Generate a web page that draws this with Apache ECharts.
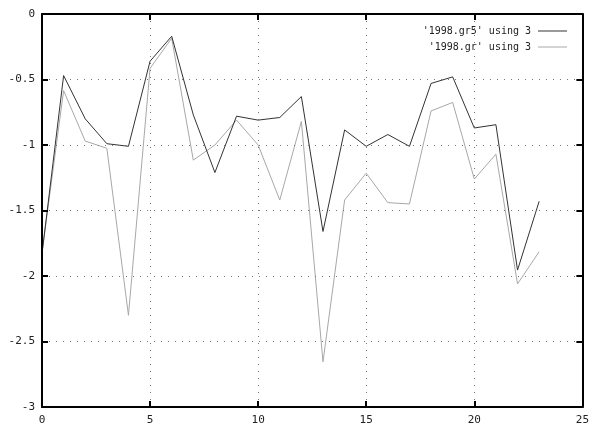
<!DOCTYPE html>
<html>
<head>
<meta charset="utf-8">
<script src="https://cdn.jsdelivr.net/npm/echarts@6/dist/echarts.min.js"></script>
<style>
  html, body { margin: 0; padding: 0; background: #fff; }
  #chart { width: 592px; height: 428px; }
</style>
</head>
<body>
<div id="chart"></div>
<script>
// Column 3 of the two 1998 data files, one value per row index
var rowIndex = [0, 1, 2, 3, 4, 5, 6, 7, 8, 9, 10, 11, 12, 13, 14, 15, 16, 17, 18, 19, 20, 21, 22, 23];
var gr5Values = [-1.83, -0.47, -0.80, -0.99, -1.01, -0.36, -0.17, -0.77, -1.21, -0.78, -0.81, -0.79, -0.63, -1.66,
                 -0.885, -1.01, -0.92, -1.01, -0.53, -0.48, -0.87, -0.845, -1.955, -1.43];
var grValues = [-1.82, -0.585, -0.97, -1.025, -2.30, -0.415, -0.185, -1.115, -1.00, -0.81, -1.00, -1.42, -0.82, -2.655,
                -1.42, -1.215, -1.44, -1.45, -0.74, -0.675, -1.26, -1.07, -2.06, -1.815];
var seriesNames = ["'1998.gr5' using 3", "'1998.gr' using 3"];
var xTicks = { min: 0, max: 25, step: 5 };
var yTicks = { min: -3, max: 0, step: 0.5 };

function pairs(xs, ys) {
  return xs.map(function (x, i) { return [x, ys[i]]; });
}

var font = "DejaVu Sans Mono";
var frame = { show: true, onZero: false, lineStyle: { color: '#000', width: 2 } };
var innerTick = { show: true, inside: true, length: 6, lineStyle: { color: '#000', width: 2 } };
var dotted = { show: true, lineStyle: { color: '#777', width: 1, type: [1, 6] } };

var chart = echarts.init(document.getElementById('chart'), null, { renderer: 'canvas' });
chart.setOption({
  animation: false,
  backgroundColor: '#fff',
  grid: { left: 42, right: 8, top: 14, bottom: 21, containLabel: false },
  legend: {
    orient: 'vertical',
    right: 20,
    top: 21,
    align: 'right',
    itemGap: 6,
    itemWidth: 29,
    itemHeight: 1,
    icon: 'rect',
    textStyle: { fontFamily: font, fontSize: 10, color: '#222', padding: [0, 2, 0, 0] },
    data: [
      { name: seriesNames[0], itemStyle: { color: '#333' } },
      { name: seriesNames[1], itemStyle: { color: '#a8a8a8' } }
    ]
  },
  xAxis: [{
    type: 'value', position: 'bottom',
    min: xTicks.min, max: xTicks.max, interval: xTicks.step,
    axisLine: frame, axisTick: innerTick, splitLine: dotted,
    axisLabel: { color: '#222', fontFamily: font, fontSize: 11, margin: 8 },
    z: 5
  }, {
    type: 'value', position: 'top',
    min: xTicks.min, max: xTicks.max, interval: xTicks.step,
    axisLine: frame, axisTick: innerTick, splitLine: { show: false },
    axisLabel: { show: false },
    z: 5
  }],
  yAxis: [{
    type: 'value', position: 'left',
    min: yTicks.min, max: yTicks.max, interval: yTicks.step,
    axisLine: frame, axisTick: innerTick, splitLine: dotted,
    axisLabel: { color: '#222', fontFamily: font, fontSize: 11, margin: 7 },
    z: 5
  }, {
    type: 'value', position: 'right',
    min: yTicks.min, max: yTicks.max, interval: yTicks.step,
    axisLine: frame, axisTick: innerTick, splitLine: { show: false },
    axisLabel: { show: false },
    z: 5
  }],
  series: [{
    name: seriesNames[0], type: 'line', xAxisIndex: 0, yAxisIndex: 0,
    data: pairs(rowIndex, gr5Values),
    showSymbol: false, symbol: 'none',
    lineStyle: { color: '#333', width: 1 },
    itemStyle: { color: '#333' },
    z: 3
  }, {
    name: seriesNames[1], type: 'line', xAxisIndex: 0, yAxisIndex: 0,
    data: pairs(rowIndex, grValues),
    showSymbol: false, symbol: 'none',
    lineStyle: { color: '#a8a8a8', width: 1 },
    itemStyle: { color: '#a8a8a8' },
    z: 2
  }]
});
</script>
</body>
</html>
